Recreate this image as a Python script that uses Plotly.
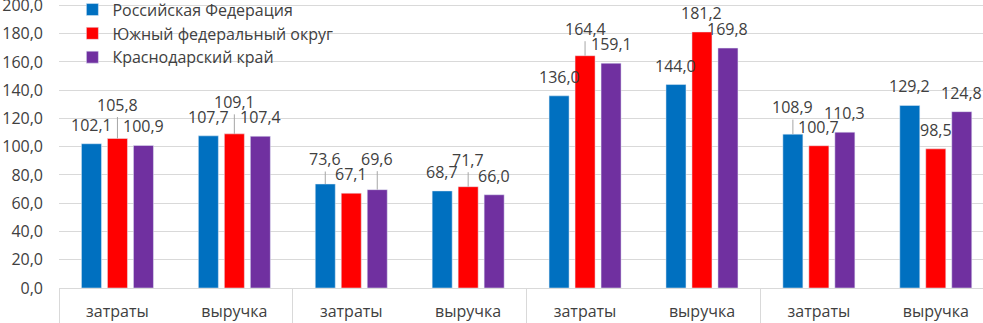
import plotly.graph_objects as go

groups = ["\u2009", "\u2009\u2009", "\u2009\u2009\u2009", "\u2009\u2009\u2009\u2009"]
inner = ["затраты", "выручка"]
series_names = ["Российская Федерация", "Южный федеральный округ", "Краснодарский край"]
rf = [102.1, 107.7, 73.6, 68.7, 136.0, 144.0, 108.9, 129.2]
yfo = [105.8, 109.1, 67.1, 71.7, 164.4, 181.2, 100.7, 98.5]
kk = [100.9, 107.4, 69.6, 66.0, 159.1, 169.8, 110.3, 124.8]
colors = ["#0070C0", "#FF0000", "#7030A0"]
yticks = [0, 20, 40, 60, 80, 100, 120, 140, 160, 180, 200]

# extra upward displacement (px) of labels moved by hand in the original
label_lift = [
    [0, 0, 6, 0, 0, 0, 8, 0],
    [15, 13, 0, 8, 8, 0, 0, 0],
    [0, 0, 12, 0, 0, 0, 0, 0],
]

outer_x = [g for g in groups for _ in inner]
inner_x = [c for _ in groups for c in inner]

XMAX = 7.404
BARGAP = 0.333
GROUPGAP = 0.23
TXT = "#404040"
FONT = "Open Sans"

fig = go.Figure()
for name, vals, col in zip(series_names, [rf, yfo, kk], colors):
    fig.add_trace(go.Bar(
        x=[outer_x, inner_x], y=vals, name=name, marker_color=col,
    ))

# data labels on an invisible numeric overlay axis aligned with the category axis
slot = (1 - BARGAP) / 3
annotations = []
for s, vals in enumerate([rf, yfo, kk]):
    off = (s - 1) * slot
    for i, v in enumerate(vals):
        lift = label_lift[s][i]
        txt = f"{v:.1f}".replace(".", ",")
        common = dict(x=i + off, y=v, xref="x2", yref="y", text=txt,
                      font=dict(family=FONT, size=16, color=TXT),
                      xanchor="center", yanchor="middle")
        if lift:
            annotations.append(dict(**common, showarrow=True, arrowhead=0,
                                    arrowwidth=1, arrowcolor="#A6A6A6",
                                    ax=0, ay=-(19 + lift), standoff=0,
                                    startstandoff=0))
        else:
            annotations.append(dict(**common, showarrow=False, yshift=19))

fig.update_layout(
    width=983, height=323,
    margin=dict(l=59, r=0, t=4, b=35, autoexpand=False),
    paper_bgcolor="white", plot_bgcolor="white",
    font=dict(family=FONT, size=16, color=TXT),
    separators=", ",
    barmode="group", bargap=BARGAP, bargroupgap=GROUPGAP,
    legend=dict(x=0.0145, y=1.04, xanchor="left", yanchor="top",
                bgcolor="rgba(0,0,0,0)", font=dict(family=FONT, size=16, color=TXT)),
    showlegend=True,
    annotations=annotations,
    xaxis2=dict(overlaying="x", range=[-0.5, XMAX], visible=False,
                showgrid=False, zeroline=False),
)
fig.update_yaxes(range=[0, 201], tickvals=yticks, tickformat=".1f",
                 showgrid=True, gridcolor="#D9D9D9", gridwidth=1,
                 zeroline=False, showline=False, ticks="",
                 ticklabeloverflow="allow", ticklabelstandoff=15,
                 tickfont=dict(family=FONT, size=16, color=TXT), automargin=False)
fig.update_layout(xaxis=dict(range=[-0.5, XMAX], showline=True, linecolor="#D9D9D9",
                             linewidth=1, showdividers=True, dividercolor="#D9D9D9",
                             dividerwidth=1, ticks="", ticklabelstandoff=9,
                             tickfont=dict(family=FONT, size=16, color=TXT),
                             automargin=False))
# invisible trace to activate the overlay axis
fig.add_trace(go.Scatter(x=[0], y=[0], xaxis="x2", yaxis="y", mode="markers",
                         marker=dict(opacity=0), showlegend=False, hoverinfo="skip"))

fig.write_html("out.html", config={"displayModeBar": False},
               post_script="document.body.style.margin='0';")
